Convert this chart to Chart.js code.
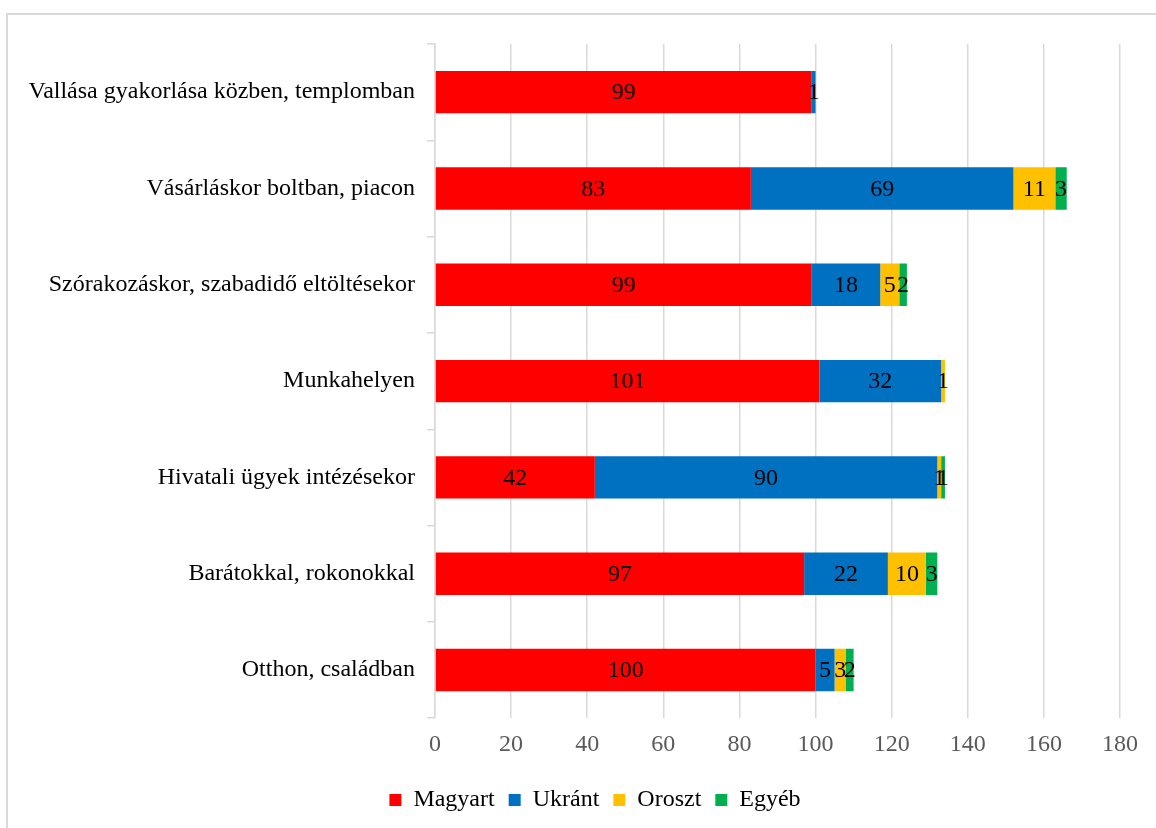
<!DOCTYPE html>
<html>
<head>
<meta charset="utf-8">
<script src="https://cdn.jsdelivr.net/npm/chart.js@4"></script>
<style>
  body { margin: 0; background: #fff; overflow: hidden; }
  #frame { position: absolute; left: 6px; top: 13px; width: 1200px; height: 900px;
           border-left: 2px solid #d9d9d9; border-top: 2px solid #d9d9d9; }
  #wrap { position: absolute; left: 0; top: 0; width: 1190px; height: 828px; }
</style>
</head>
<body>
<div id="frame"></div>
<div id="wrap"><canvas id="chart"></canvas></div>
<script>
const categories = [
  "Vallása gyakorlása közben, templomban",
  "Vásárláskor boltban, piacon",
  "Szórakozáskor, szabadidő eltöltésekor",
  "Munkahelyen",
  "Hivatali ügyek intézésekor",
  "Barátokkal, rokonokkal",
  "Otthon, családban"
];
const magyar = [99, 83, 99, 101, 42, 97, 100];
const ukran = [1, 69, 18, 32, 90, 22, 5];
const orosz = [0, 11, 5, 1, 1, 10, 3];
const egyeb = [0, 3, 2, 0, 1, 3, 2];
const seriesNames = ["Magyart", "Ukránt", "Oroszt", "Egyéb"];
const colors = ["#FF0000", "#0070C0", "#FFC000", "#00B050"];

const serif = "'Liberation Serif', 'Times New Roman', serif";

//labels in the middle of every segment
const segLabels = {
  id: "segLabels",
  afterDatasetsDraw(chart) {
    let ctx = chart.ctx;
    ctx.save();
    ctx.font = "24px " + serif;
    ctx.fillStyle = "#000";
    ctx.textAlign = "center";
    ctx.textBaseline = "middle";
    chart.data.datasets.forEach((ds, i) => {
      let meta = chart.getDatasetMeta(i);
      meta.data.forEach((bar, j) => {
        let v = ds.data[j];
        if (!v) return;
        ctx.fillText(String(v), (bar.x + bar.base) / 2, bar.y + 1);
      });
    });
    ctx.restore();
  }
};

//legend sits a bit right of the canvas middle in the original
const legendShift = {
  id: "legendShift",
  beforeDraw(chart) {
    let lg = chart.legend;
    if (!lg || lg._shiftedAt === lg.left) return;
    lg.left += 35;
    lg.right += 35;
    lg._shiftedAt = lg.left;
  }
};

let values = [magyar, ukran, orosz, egyeb];
let datasets = values.map((d, i) => ({
  label: seriesNames[i],
  data: d,
  backgroundColor: colors[i],
  borderWidth: 0,
  barPercentage: 0.44,
  categoryPercentage: 1
}));

new Chart(document.getElementById("chart"), {
  type: "bar",
  data: { labels: categories, datasets: datasets },
  plugins: [segLabels, legendShift],
  options: {
    indexAxis: "y",
    responsive: true,
    maintainAspectRatio: false,
    animation: false,
    layout: { padding: { top: 44, right: 70, bottom: 6, left: 0 } },
    scales: {
      x: {
        stacked: true,
        min: 0,
        max: 180,
        afterFit(scale) { scale.height += 3; },
        ticks: { stepSize: 20, color: "#595959", padding: 12, font: { family: serif, size: 24 } },
        grid: { color: "#d9d9d9", lineWidth: 1.5, drawTicks: false },
        border: { display: false }
      },
      y: {
        stacked: true,
        afterFit(scale) { scale.width = 435; },
        ticks: { color: "#000", padding: 12, font: { family: serif, size: 24 } },
        grid: { drawOnChartArea: false, color: "#d9d9d9", lineWidth: 1.5, tickLength: 8 },
        border: { color: "#d9d9d9", width: 1.5 }
      }
    },
    plugins: {
      legend: {
        position: "bottom",
        labels: {
          boxWidth: 12,
          boxHeight: 12,
          color: "#000",
          padding: 14,
          font: { family: serif, size: 24 }
        }
      },
      tooltip: { enabled: false }
    }
  }
});
</script>
</body>
</html>
